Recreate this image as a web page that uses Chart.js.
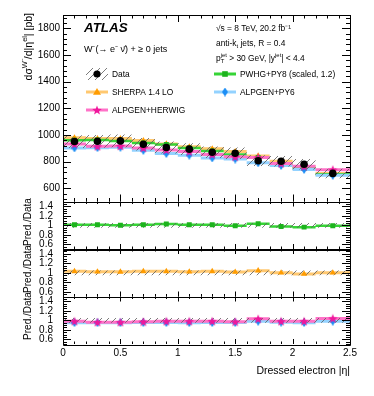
<!DOCTYPE html>
<html>
<head>
<meta charset="utf-8">
<script src="https://cdn.jsdelivr.net/npm/chart.js@4.4.1/dist/chart.umd.min.js"></script>
<style>
  body { margin: 0; background: #fff; }
  #wrap { position: relative; width: 374px; height: 396px; }
  #wrap canvas { position: absolute; left: 0; top: 0; }
</style>
</head>
<body>
<div id="wrap">
  <canvas id="mainChart" width="374" height="396"></canvas>
  <canvas id="ratioPwhg" width="374" height="396"></canvas>
  <canvas id="ratioSherpa" width="374" height="396"></canvas>
  <canvas id="ratioAlpgen" width="374" height="396"></canvas>
</div>
<script>
// |eta| bins
const binEdges = [0, 0.2, 0.4, 0.6, 0.8, 1.0, 1.2, 1.4, 1.6, 1.8, 2.0, 2.2, 2.5];
const binCentres = [0.1, 0.3, 0.5, 0.7, 0.9, 1.1, 1.3, 1.5, 1.7, 1.9, 2.1, 2.35];

// cross sections in pb
const dataXsec = [950, 952, 955, 930, 905, 893, 870, 862, 806, 802, 780, 711];
const dataSystRel = [0.05, 0.05, 0.05, 0.05, 0.05, 0.05, 0.05, 0.05, 0.05, 0.05, 0.05, 0.05];
const sherpaXsec = [978, 972, 973, 957, 932, 911, 896, 875, 842, 802, 760, 711];
const pwhgXsec = [960, 962, 955, 940, 928, 902, 879, 853, 830, 782, 749, 704];
const alpHerwigXsec = [931, 914, 917, 902, 887, 875, 853, 836, 830, 786, 764, 739];
const alpPy6Xsec = [902, 904, 907, 884, 860, 848, 827, 819, 790, 770, 741, 697];

// tick labels
const etaTicks = [0, 0.5, 1, 1.5, 2, 2.5];
const xsecTicks = [600, 800, 1000, 1200, 1400, 1600, 1800];
const ratioTicks = [0.6, 0.8, 1, 1.2, 1.4];

const FAMILY = '"Liberation Sans", Arial, Helvetica, sans-serif';
const PLOT_L = 63, PLOT_R = 350, AXIS_W = 40, X_AXIS_H = 33;

const ORANGE = '#FF9C00', ORANGE_BAND = '#FFC870';
const GREEN = '#1DB31D', GREEN_BAND = '#36D436';
const PINK = '#F0179C', PINK_BAND = '#FF72C8';
const BLUE = '#1C8EF5', BLUE_BAND = '#93D2FF';

function font(size, style) {
  return (style || '') + ' ' + size + 'px ' + FAMILY;
}

// hatch pattern for the data uncertainty
function hatchPattern(ctx) {
  const c = document.createElement('canvas');
  c.width = 7; c.height = 7;
  const g = c.getContext('2d');
  g.strokeStyle = '#5a5a5a';
  g.lineWidth = 0.8;
  g.beginPath();
  g.moveTo(0, 7); g.lineTo(7, 0);
  g.moveTo(-1, 1); g.lineTo(1, -1);
  g.moveTo(6, 8); g.lineTo(8, 6);
  g.stroke();
  return ctx.createPattern(c, 'repeat');
}

// filled 5 point star (ROOT marker 29)
function starImage(size, color) {
  const c = document.createElement('canvas');
  c.width = size; c.height = size;
  const g = c.getContext('2d');
  g.fillStyle = color;
  g.beginPath();
  for (let k = 0; k < 10; k++) {
    const r = k % 2 ? size * 0.21 : size * 0.5;
    const a = -Math.PI / 2 + k * Math.PI / 5;
    g.lineTo(size / 2 + r * Math.cos(a), size * 0.55 + r * Math.sin(a));
  }
  g.closePath();
  g.fill();
  return c;
}

// thin diamond (ROOT marker 33)
function diamondImage(w, h, color) {
  const c = document.createElement('canvas');
  c.width = w; c.height = h;
  const g = c.getContext('2d');
  g.fillStyle = color;
  g.beginPath();
  g.moveTo(w / 2, 0); g.lineTo(w, h / 2); g.lineTo(w / 2, h); g.lineTo(0, h / 2);
  g.closePath();
  g.fill();
  return c;
}

const starImg = starImage(10, PINK);
const diamondImg = diamondImage(6, 9, BLUE);

// histogram as separate horizontal segments per bin
function stepSegments(vals) {
  const pts = [];
  vals.forEach((v, i) => {
    pts.push({ x: binEdges[i], y: v }, { x: binEdges[i + 1], y: v }, { x: binEdges[i + 1], y: null });
  });
  return pts;
}

// connected outline, used for the filled band
function stepOutline(vals) {
  const pts = [];
  vals.forEach((v, i) => {
    pts.push({ x: binEdges[i], y: v }, { x: binEdges[i + 1], y: v });
  });
  return pts;
}

function markerPoints(vals) {
  return binCentres.map((x, i) => ({ x: x, y: vals[i] }));
}

function toRatio(vals) {
  return vals.map((v, i) => v / dataXsec[i]);
}

function lineSet(vals, color, width) {
  return { data: stepSegments(vals), borderColor: color, borderWidth: width, pointRadius: 0, spanGaps: false, fill: false };
}

function markerSet(vals, style, radius, color) {
  return { data: markerPoints(vals), showLine: false, pointStyle: style, pointRadius: radius,
    pointBackgroundColor: color, pointBorderColor: color, pointBorderWidth: 0 };
}

function bandSets(upper, lower, pattern) {
  return [
    { data: stepOutline(upper), borderColor: 'rgba(0,0,0,0)', borderWidth: 0, pointRadius: 0, fill: '+1', backgroundColor: pattern },
    { data: stepOutline(lower), borderColor: 'rgba(0,0,0,0)', borderWidth: 0, pointRadius: 0, fill: false }
  ];
}

// rich text with super/subscripts
function richWidth(ctx, parts, size) {
  let w = 0;
  parts.forEach(p => {
    if (typeof p === 'string') {
      ctx.font = font(size);
      w += ctx.measureText(p).width;
    } else {
      ctx.font = font(size * 0.7);
      w += Math.max(p.sup ? ctx.measureText(p.sup).width : 0, p.sub ? ctx.measureText(p.sub).width : 0);
    }
  });
  return w;
}

function drawRich(ctx, x, y, parts, size) {
  parts.forEach(p => {
    if (typeof p === 'string') {
      ctx.font = font(size);
      ctx.fillText(p, x, y);
      x += ctx.measureText(p).width;
    } else {
      ctx.font = font(size * 0.7);
      let w = 0;
      if (p.sup) { ctx.fillText(p.sup, x, y - size * 0.42); w = ctx.measureText(p.sup).width; }
      if (p.sub) { ctx.fillText(p.sub, x, y + size * 0.25); w = Math.max(w, ctx.measureText(p.sub).width); }
      x += w;
    }
  });
}

// ROOT style frame with ticks on all four sides, plus rotated y title
const rootFrame = {
  id: 'rootFrame',
  afterDraw(chart, args, o) {
    const ctx = chart.ctx, a = chart.chartArea, x = chart.scales.x, y = chart.scales.y;
    ctx.save();
    ctx.strokeStyle = '#000';
    ctx.lineWidth = 1;
    ctx.beginPath();
    ctx.rect(Math.round(a.left) + 0.5, Math.round(a.top) + 0.5, Math.round(a.right - a.left), Math.round(a.bottom - a.top));

    const nx = Math.round((x.max - x.min) / o.xMinor);
    for (let k = 0; k <= nx; k++) {
      const v = x.min + k * o.xMinor;
      const major = Math.abs(v / o.xMajor - Math.round(v / o.xMajor)) < 1e-6;
      const len = major ? o.xMajLen : o.xMinLen;
      const px = Math.round(x.getPixelForValue(v)) + 0.5;
      ctx.moveTo(px, a.bottom); ctx.lineTo(px, a.bottom - len);
      ctx.moveTo(px, a.top); ctx.lineTo(px, a.top + len);
    }

    const anchor = o.yAnchor;
    const k0 = Math.ceil((y.min - anchor) / o.yMinor - 1e-9);
    const k1 = Math.floor((y.max - anchor) / o.yMinor + 1e-9);
    for (let k = k0; k <= k1; k++) {
      const v = anchor + k * o.yMinor;
      const q = (v - anchor) / o.yMajor;
      const major = Math.abs(q - Math.round(q)) < 1e-6;
      const len = major ? o.yMajLen : o.yMinLen;
      const py = Math.round(y.getPixelForValue(v)) + 0.5;
      ctx.moveTo(a.left, py); ctx.lineTo(a.left + len, py);
      ctx.moveTo(a.right, py); ctx.lineTo(a.right - len, py);
    }
    ctx.stroke();

    // y axis title, rotated
    ctx.fillStyle = '#000';
    ctx.textAlign = 'left';
    ctx.textBaseline = 'alphabetic';
    const w = richWidth(ctx, o.title, o.titleSize);
    const start = o.titleAlign === 'end' ? o.titleY + w : o.titleY + w / 2;
    ctx.translate(o.titleX, start);
    ctx.rotate(-Math.PI / 2);
    drawRich(ctx, 0, 0, o.title, o.titleSize);
    ctx.restore();
  }
};

// ATLAS label, info text and legend on the top panel
const atlasLabels = {
  id: 'atlasLabels',
  afterDraw(chart) {
    const ctx = chart.ctx;
    const fs = 8.4;
    ctx.save();
    ctx.fillStyle = '#000';
    ctx.textAlign = 'left';
    ctx.textBaseline = 'alphabetic';
    ctx.font = font(13.4, 'italic bold');
    ctx.fillText('ATLAS', 84, 32.3);
    drawRich(ctx, 84, 52.3, ['W⁻(→ e⁻ ν̄) + ≥ 0 jets'], 9);
    drawRich(ctx, 216, 31, ['√s = 8 TeV, 20.2 fb⁻¹'], fs);
    drawRich(ctx, 216, 46, ['anti-k', { sub: 't' }, ' jets, R = 0.4'], fs);
    drawRich(ctx, 216, 60.5, ['p', { sup: 'jet', sub: 'T' }, ' > 30 GeV, |y', { sup: 'jet' }, '| < 4.4'], fs);

    const entries = [
      { label: 'Data', x: 86, y: 74, kind: 'data' },
      { label: 'SHERPA 1.4 LO', x: 86, y: 92, band: ORANGE_BAND, kind: 'triangle', color: ORANGE },
      { label: 'ALPGEN+HERWIG', x: 86, y: 110, band: PINK_BAND, kind: 'img', img: starImg },
      { label: 'PWHG+PY8 (scaled, 1.2)', x: 214, y: 74, band: GREEN_BAND, kind: 'square', color: GREEN },
      { label: 'ALPGEN+PY6', x: 214, y: 92, band: BLUE_BAND, kind: 'img', img: diamondImg }
    ];
    entries.forEach(e => {
      const cx = e.x + 11;
      if (e.kind === 'data') {
        ctx.fillStyle = hatchPattern(ctx);
        ctx.fillRect(e.x, e.y - 6, 22, 12);
        ctx.fillStyle = '#000';
        ctx.beginPath(); ctx.arc(cx, e.y, 3.6, 0, 2 * Math.PI); ctx.fill();
      } else {
        ctx.strokeStyle = e.band;
        ctx.lineWidth = 3;
        ctx.beginPath(); ctx.moveTo(e.x, e.y); ctx.lineTo(e.x + 22, e.y); ctx.stroke();
        ctx.fillStyle = e.color || '#000';
        if (e.kind === 'triangle') {
          ctx.beginPath(); ctx.moveTo(cx, e.y - 4); ctx.lineTo(cx + 4, e.y + 2.8); ctx.lineTo(cx - 4, e.y + 2.8); ctx.closePath(); ctx.fill();
        } else if (e.kind === 'square') {
          ctx.fillRect(cx - 2.8, e.y - 2.8, 5.6, 5.6);
        } else {
          ctx.drawImage(e.img, cx - e.img.width / 2, e.y - e.img.height / 2);
        }
      }
      ctx.fillStyle = '#000';
      drawRich(ctx, e.x + 26, e.y + 3.2, [e.label], fs);
    });
    ctx.restore();
  }
};

function makePanel(id, top, bottom, yMin, yMax, yTicks, labelPad, datasets, frame, isBottom, extra) {
  const tickFont = { family: FAMILY, size: 10 };
  return new Chart(document.getElementById(id).getContext('2d'), {
    type: 'line',
    data: { datasets: datasets },
    options: {
      responsive: false,
      animation: false,
      events: [],
      layout: {
        padding: {
          left: PLOT_L - AXIS_W,
          right: 374 - PLOT_R,
          top: top,
          bottom: isBottom ? 396 - bottom - X_AXIS_H : 396 - bottom
        }
      },
      plugins: { legend: { display: false }, tooltip: { enabled: false }, rootFrame: frame },
      scales: {
        x: {
          type: 'linear', min: 0, max: 2.5, bounds: 'data', display: isBottom,
          grid: { display: false, drawTicks: false }, border: { display: false },
          afterBuildTicks: s => { s.ticks = etaTicks.map(v => ({ value: v })); },
          ticks: { font: tickFont, color: '#000', padding: 3, maxRotation: 0, autoSkip: false, callback: v => String(v) },
          title: { display: isBottom, text: 'Dressed electron |η|', align: 'end', color: '#000',
            font: { family: FAMILY, size: 10.5 }, padding: { top: 2, bottom: 0 } },
          afterFit: s => { if (isBottom) s.height = X_AXIS_H; }
        },
        y: {
          type: 'linear', min: yMin, max: yMax, bounds: 'data',
          grid: { display: false, drawTicks: false }, border: { display: false },
          afterBuildTicks: s => { s.ticks = yTicks.map(v => ({ value: v })); },
          ticks: { font: tickFont, color: '#000', padding: labelPad, autoSkip: false, callback: v => String(v) },
          afterFit: s => { s.width = AXIS_W; }
        }
      }
    },
    plugins: [rootFrame].concat(extra || [])
  });
}

// main panel
const mainCtx = document.getElementById('mainChart').getContext('2d');
const dataUp = dataXsec.map((v, i) => v * (1 + dataSystRel[i]));
const dataDown = dataXsec.map((v, i) => v * (1 - dataSystRel[i]));
const mainSets = [
  markerSet(dataXsec, 'circle', 3.8, '#000'),
  markerSet(alpHerwigXsec, starImg, 5, PINK),
  markerSet(alpPy6Xsec, diamondImg, 5, BLUE),
  markerSet(pwhgXsec, 'rect', 3.5, GREEN),
  markerSet(sherpaXsec, 'triangle', 3.6, ORANGE)
].concat(bandSets(dataUp, dataDown, hatchPattern(mainCtx))).concat([
  lineSet(alpHerwigXsec, PINK_BAND, 3),
  lineSet(alpPy6Xsec, BLUE_BAND, 3),
  lineSet(pwhgXsec, GREEN_BAND, 2.5),
  lineSet(sherpaXsec, ORANGE_BAND, 3)
]);
makePanel('mainChart', 15, 201.5, 500, 1900, xsecTicks, 3, mainSets, {
  xMajor: 0.5, xMinor: 0.1, xMajLen: 7, xMinLen: 3.5,
  yAnchor: 600, yMajor: 200, yMinor: 40, yMajLen: 8, yMinLen: 4,
  title: ['dσ', { sup: 'W⁻' }, '/d|η', { sup: 'el' }, '| [pb]'], titleSize: 10.5, titleX: 31.5, titleY: 13, titleAlign: 'end'
}, false, [atlasLabels]);

// ratio panels
const ratioUp = dataSystRel.map(r => 1 + r);
const ratioDown = dataSystRel.map(r => 1 - r);
const ratioFrame = yc => ({
  xMajor: 0.5, xMinor: 0.1, xMajLen: 5, xMinLen: 2.5,
  yAnchor: 1, yMajor: 0.2, yMinor: 0.05, yMajLen: 8, yMinLen: 4,
  title: ['Pred./Data'], titleSize: 10, titleX: 30.5, titleY: yc, titleAlign: 'center'
});

const r1Ctx = document.getElementById('ratioPwhg').getContext('2d');
makePanel('ratioPwhg', 201.5, 249, 0.5, 1.5, ratioTicks, 10, [
  markerSet(toRatio(pwhgXsec), 'rect', 3.5, GREEN)
].concat(bandSets(ratioUp, ratioDown, hatchPattern(r1Ctx))).concat([
  lineSet(toRatio(pwhgXsec), GREEN_BAND, 2.5)
]), ratioFrame(222), false);

const r2Ctx = document.getElementById('ratioSherpa').getContext('2d');
makePanel('ratioSherpa', 249, 296.5, 0.5, 1.5, ratioTicks, 10, [
  markerSet(toRatio(sherpaXsec), 'triangle', 3.6, ORANGE)
].concat(bandSets(ratioUp, ratioDown, hatchPattern(r2Ctx))).concat([
  lineSet(toRatio(sherpaXsec), ORANGE_BAND, 3)
]), ratioFrame(269), false);

const r3Ctx = document.getElementById('ratioAlpgen').getContext('2d');
makePanel('ratioAlpgen', 296.5, 344, 0.5, 1.5, ratioTicks, 10, [
  markerSet(toRatio(alpHerwigXsec), starImg, 5, PINK),
  markerSet(toRatio(alpPy6Xsec), diamondImg, 5, BLUE)
].concat(bandSets(ratioUp, ratioDown, hatchPattern(r3Ctx))).concat([
  lineSet(toRatio(alpHerwigXsec), PINK_BAND, 3),
  lineSet(toRatio(alpPy6Xsec), BLUE_BAND, 3)
]), ratioFrame(316), true);
</script>
</body>
</html>
